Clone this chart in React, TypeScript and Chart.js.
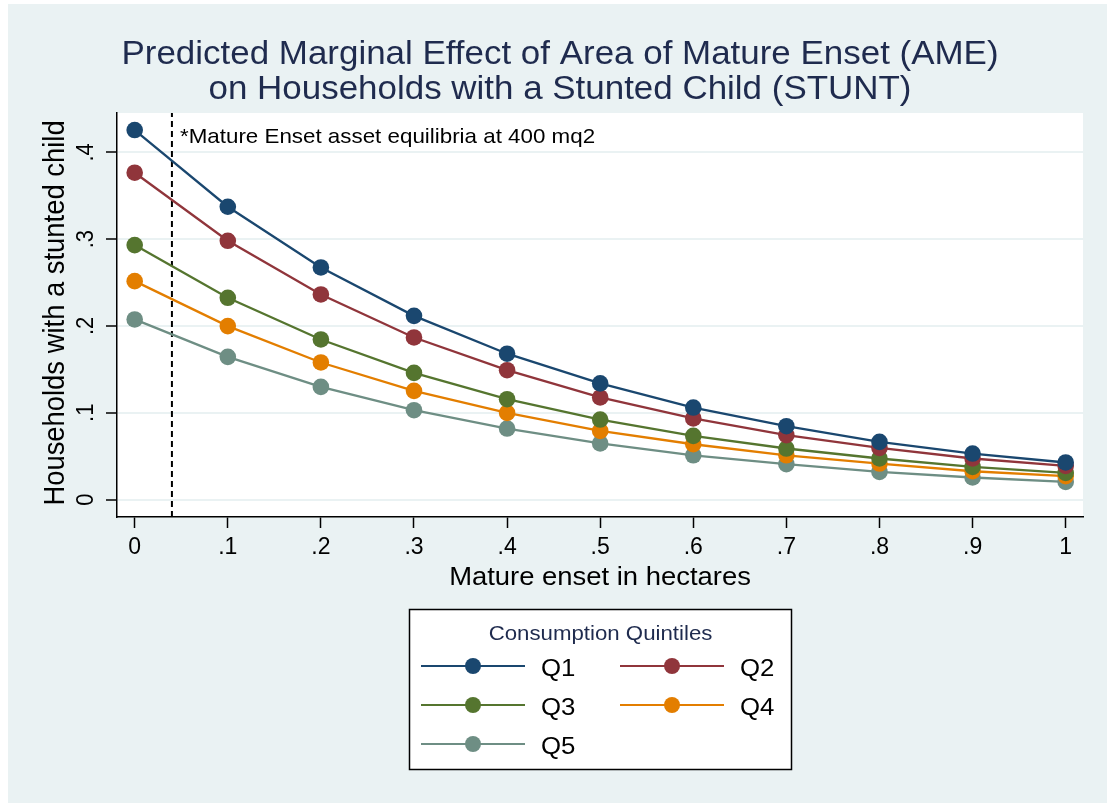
import React, { useEffect, useRef } from "react";
import { Chart, registerables } from "chart.js";

Chart.register(...registerables);

// ---------- data ----------
const xValues = [0, 0.1, 0.2, 0.3, 0.4, 0.5, 0.6, 0.7, 0.8, 0.9, 1];
const q1 = [0.4257, 0.3373, 0.2674, 0.2116, 0.168, 0.1338, 0.106, 0.0845, 0.0664, 0.053, 0.0427];
const q2 = [0.3765, 0.2981, 0.2363, 0.1867, 0.149, 0.1176, 0.0934, 0.0741, 0.0595, 0.0473, 0.0387];
const q3 = [0.2931, 0.2324, 0.1844, 0.1459, 0.1156, 0.0922, 0.0733, 0.0588, 0.0473, 0.0376, 0.0307];
const q4 = [0.2516, 0.1998, 0.1579, 0.1252, 0.0998, 0.079, 0.0637, 0.051, 0.0415, 0.0326, 0.0269];
const q5 = [0.2075, 0.1644, 0.1298, 0.1029, 0.0818, 0.0646, 0.051, 0.0407, 0.0318, 0.0254, 0.0203];
const seriesLabels = ["Q1", "Q2", "Q3", "Q4", "Q5"];
const seriesColors = ["#1a476f", "#90353b", "#55752f", "#e37e00", "#6e8e84"];
const xTicks = [0, 0.1, 0.2, 0.3, 0.4, 0.5, 0.6, 0.7, 0.8, 0.9, 1];
const yTicks = [0, 0.1, 0.2, 0.3, 0.4];
const xMin = -0.019;
const xMax = 1.0186;
const yMin = -0.0201;
const yMax = 0.4453;
const equilibriumX = 0.04;

const titleLines = [
  "Predicted Marginal Effect of Area of Mature Enset (AME)",
  "on Households with a Stunted Child (STUNT)",
];
const xTitle = "Mature enset in hectares";
const yTitle = "Households with a stunted child";
const noteText = "*Mature Enset asset equilibria at 400 mq2";
const legendTitle = "Consumption Quintiles";

const FONT = '"Liberation Sans", Arial, Helvetica, sans-serif';
const BG = "#eaf2f3";
const TITLE_COLOR = "#1f2b4e";
const STRETCH = 1.075;

const fmt = (v: number) => {
  if (Math.abs(v) < 1e-9) return "0";
  if (Math.abs(v - 1) < 1e-9) return "1";
  return (Math.round(v * 10) / 10).toString().replace(/^0/, "");
};

// draw horizontally stretched text (reference glyphs are slightly wide)
function drawText(ctx: any, text: string, x: number, y: number, size: number, align: string, color: string, rotate = false) {
  ctx.save();
  ctx.translate(x, y);
  if (rotate) {
    ctx.rotate(-Math.PI / 2);
    ctx.scale(1, STRETCH);
  } else {
    ctx.scale(STRETCH, 1);
  }
  ctx.font = `${size}px ${FONT}`;
  ctx.fillStyle = color;
  ctx.textAlign = align;
  ctx.textBaseline = "alphabetic";
  ctx.fillText(text, 0, 0);
  ctx.restore();
}

const decorPlugin = {
  id: "decor",
  beforeDraw(chart: any) {
    const { ctx, width, height, chartArea } = chart;
    ctx.save();
    ctx.fillStyle = "#ffffff";
    ctx.fillRect(0, 0, width, height);
    ctx.fillStyle = BG;
    ctx.fillRect(8, 4, width - 8, height - 4);
    ctx.fillStyle = "#ffffff";
    ctx.fillRect(chartArea.left, chartArea.top, chartArea.right - chartArea.left, chartArea.bottom - chartArea.top);
    ctx.restore();
  },
  afterDraw(chart: any) {
    const { ctx, chartArea } = chart;
    const yScale = chart.scales.y;
    ctx.save();
    // title
    drawText(ctx, titleLines[0], 560, 64, 32.5, "center", TITLE_COLOR);
    drawText(ctx, titleLines[1], 560, 99, 32.5, "center", TITLE_COLOR);

    // y tick labels (rotated)
    for (const t of yScale.ticks) {
      const py = yScale.getPixelForValue(t.value);
      drawText(ctx, fmt(t.value), 93, py, 22, "center", "#000", true);
    }
    // y title
    drawText(ctx, yTitle, 64, (chartArea.top + chartArea.bottom) / 2 - 2, 27.4, "center", "#000", true);
    // x title
    drawText(ctx, xTitle, (chartArea.left + chartArea.right) / 2, 585, 25.5, "center", "#000");
    // note
    drawText(ctx, noteText, chartArea.left + 63, chartArea.top + 30, 20.8, "left", "#000");

    // legend
    const bx = 409.5, by = 609.5, bw = 382, bh = 160;
    ctx.fillStyle = "#fff";
    ctx.fillRect(bx, by, bw, bh);
    ctx.strokeStyle = "#000";
    ctx.lineWidth = 1.5;
    ctx.strokeRect(bx, by, bw, bh);
    drawText(ctx, legendTitle, bx + bw / 2, 640, 20.7, "center", TITLE_COLOR);
    const pos = [
      [421, 666],
      [620, 666],
      [421, 705],
      [620, 705],
      [421, 744],
    ];
    chart.data.datasets.slice(0, 5).forEach((ds: any, i: number) => {
      const [lx, ly] = pos[i];
      ctx.strokeStyle = ds.borderColor;
      ctx.lineWidth = 2.2;
      ctx.beginPath();
      ctx.moveTo(lx, ly);
      ctx.lineTo(lx + 104, ly);
      ctx.stroke();
      ctx.fillStyle = ds.borderColor;
      ctx.beginPath();
      ctx.arc(lx + 52, ly, 8, 0, Math.PI * 2);
      ctx.fill();
      drawText(ctx, ds.label, lx + 120, ly + 10, 24, "left", "#000");
    });
    ctx.restore();
  },
};

export default function App() {
  const canvasRef = useRef<HTMLCanvasElement | null>(null);

  useEffect(() => {
    document.body.style.margin = "0";
    const canvas = canvasRef.current;
    if (!canvas) return;
    const seriesData = [q1, q2, q3, q4, q5];
    const datasets: any[] = seriesData.map((arr, i) => ({
      label: seriesLabels[i],
      data: xValues.map((x, j) => ({ x, y: arr[j] })),
      borderColor: seriesColors[i],
      backgroundColor: seriesColors[i],
      pointBackgroundColor: seriesColors[i],
      pointBorderWidth: 0,
      pointRadius: 8.3,
      borderWidth: 2.3,
      tension: 0,
      fill: false,
    }));
    datasets.push({
      label: "equilibrium",
      data: [
        { x: equilibriumX, y: yMin },
        { x: equilibriumX, y: yMax },
      ],
      borderColor: "#000",
      borderWidth: 2,
      borderDash: [6, 4],
      pointRadius: 0,
      fill: false,
    });

    const chart = new Chart(canvas, {
      type: "line",
      data: { datasets },
      options: {
        responsive: false,
        animation: false,
        devicePixelRatio: 1,
        layout: { padding: { left: 0, top: 113, right: 24, bottom: 0 } },
        plugins: {
          legend: { display: false },
          tooltip: { enabled: false },
          title: { display: false },
        },
        scales: {
          x: {
            type: "linear",
            min: xMin,
            max: xMax,
            afterBuildTicks: (s: any) => {
              s.ticks = xTicks.map((v) => ({ value: v }));
            },
            afterFit: (s: any) => {
              s.height = 286;
            },
            grid: {
              drawOnChartArea: false,
              drawTicks: true,
              tickLength: 11,
              tickColor: "#000",
              tickWidth: 1.5,
            },
            border: { color: "#000", width: 1.5 },
            ticks: {
              color: "#000",
              font: { size: 23, family: FONT },
              padding: 6,
              maxRotation: 0,
              minRotation: 0,
              autoSkip: false,
              callback: (v: any) => fmt(Number(v)),
            },
          },
          y: {
            type: "linear",
            min: yMin,
            max: yMax,
            afterBuildTicks: (s: any) => {
              s.ticks = yTicks.map((v) => ({ value: v }));
            },
            afterFit: (s: any) => {
              s.width = 117;
            },
            grid: {
              color: BG,
              lineWidth: 2,
              drawTicks: true,
              tickLength: 11,
              tickColor: "#000",
              tickWidth: 1.5,
            },
            border: { color: "#000", width: 1.5 },
            ticks: { display: false },
          },
        },
      } as any,
      plugins: [decorPlugin],
    });
    return () => chart.destroy();
  }, []);

  return <canvas ref={canvasRef} width={1107} height={803} style={{ display: "block" }} />;
}
